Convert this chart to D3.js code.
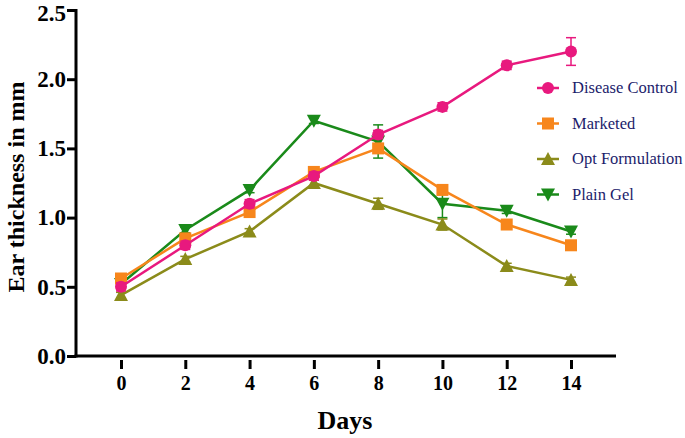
<!DOCTYPE html>
<html><head><meta charset="utf-8">
<script src="https://cdn.jsdelivr.net/npm/d3@7"></script>
<style>body{margin:0;background:#fff}svg{display:block}</style>
</head><body>
<svg id="c" width="685" height="438"></svg>
<script>
const days = [0, 2, 4, 6, 8, 10, 12, 14];
const diseaseControl = [0.50, 0.80, 1.10, 1.30, 1.60, 1.80, 2.10, 2.20];
const diseaseErr     = [0.03, 0.03, 0.03, 0.03, 0.03, 0.03, 0.03, 0.10];
const marketed       = [0.56, 0.85, 1.04, 1.33, 1.50, 1.20, 0.95, 0.80];
const marketedErr    = [0.02, 0.02, 0.02, 0.02, 0.03, 0.02, 0.02, 0.02];
const optFormulation = [0.44, 0.70, 0.90, 1.25, 1.10, 0.95, 0.65, 0.55];
const optErr         = [0.02, 0.02, 0.02, 0.02, 0.04, 0.04, 0.02, 0.02];
const plainGel       = [0.52, 0.91, 1.20, 1.70, 1.55, 1.10, 1.05, 0.90];
const plainErr       = [0.02, 0.02, 0.02, 0.02, 0.12, 0.10, 0.02, 0.02];
const yTicks = [0.0, 0.5, 1.0, 1.5, 2.0, 2.5];
const seriesNames = ["Disease Control", "Marketed", "Opt Formulation", "Plain Gel"];
const colors = ["#e8197e", "#f7861c", "#8b8b1a", "#1a8a1a"];
const symbols = ["circle", "square", "tri", "tridown"];

const series = [
  {name: seriesNames[0], vals: diseaseControl, err: diseaseErr},
  {name: seriesNames[1], vals: marketed, err: marketedErr},
  {name: seriesNames[2], vals: optFormulation, err: optErr},
  {name: seriesNames[3], vals: plainGel, err: plainErr}
];

const svg = d3.select("#c");
const x = d3.scaleLinear().domain([-1.4, 15.4]).range([76, 616]);
const y = d3.scaleLinear().domain([0, 2.5]).range([356, 10]);
const serif = "'Liberation Serif','Times New Roman',serif";

function drawMarker(g, sym, cx, cy, color) {
  if (sym === "circle") {
    g.append("circle").attr("cx", cx).attr("cy", cy).attr("r", 6).attr("fill", color);
  } else if (sym === "square") {
    g.append("rect").attr("x", cx - 6).attr("y", cy - 6).attr("width", 12).attr("height", 12).attr("fill", color);
  } else if (sym === "tri") {
    g.append("path").attr("d", `M${cx},${cy-7}L${cx+7},${cy+6}L${cx-7},${cy+6}Z`).attr("fill", color);
  } else {
    g.append("path").attr("d", `M${cx},${cy+7}L${cx+7},${cy-6}L${cx-7},${cy-6}Z`).attr("fill", color);
  }
}

const order = [3, 2, 1, 0];
order.forEach(i => {
  const s = series[i];
  const g = svg.append("g");
  const line = d3.line().x((d, j) => x(days[j])).y(d => y(d));
  s.vals.forEach((v, j) => {
    const cx = x(days[j]);
    const y1 = y(v + s.err[j]), y2 = y(v - s.err[j]);
    g.append("line").attr("x1", cx).attr("x2", cx).attr("y1", y1).attr("y2", y2).attr("stroke", colors[i]).attr("stroke-width", 1.5);
    [y1, y2].forEach(yy => g.append("line").attr("x1", cx - 5).attr("x2", cx + 5).attr("y1", yy).attr("y2", yy).attr("stroke", colors[i]).attr("stroke-width", 1.5));
  });
  g.append("path").datum(s.vals).attr("d", line).attr("fill", "none").attr("stroke", colors[i]).attr("stroke-width", 2.5);
  s.vals.forEach((v, j) => drawMarker(g, symbols[i], x(days[j]), y(v), colors[i]));
});

const yAxis = svg.append("g").attr("transform", "translate(76,0)")
  .call(d3.axisLeft(y).tickValues(yTicks).tickFormat(d3.format(".1f")).tickSize(9).tickPadding(1));
yAxis.select(".domain").attr("stroke-width", 3).attr("d", "M0,9V357.5");
yAxis.selectAll(".tick line").attr("stroke-width", 3);
yAxis.selectAll("text").attr("font-family", serif).attr("font-weight", "bold").attr("font-size", 23).attr("fill", "#000")
  .attr("dy", (d) => d === 2.5 ? "0.45em" : "0.32em");

const xAxis = svg.append("g").attr("transform", "translate(0,356)")
  .call(d3.axisBottom(x).tickValues(days).tickFormat(d3.format("d")).tickSize(0).tickPadding(20));
xAxis.select(".domain").attr("stroke-width", 3).attr("d", "M74.5,0H616");
xAxis.selectAll(".tick").append("line").attr("y1", 4).attr("y2", 13).attr("stroke", "#000").attr("stroke-width", 3);
xAxis.selectAll("text").attr("font-family", serif).attr("font-weight", "bold").attr("font-size", 20).attr("fill", "#000");

svg.append("text").attr("x", 345).attr("y", 429).attr("text-anchor", "middle")
  .attr("font-family", serif).attr("font-weight", "bold").attr("font-size", 26).text("Days");
svg.append("text").attr("transform", "translate(24,187) rotate(-90)").attr("text-anchor", "middle")
  .attr("font-family", serif).attr("font-weight", "bold").attr("font-size", 24).text("Ear thickness in mm");

const lg = svg.append("g");
series.forEach((s, i) => {
  const ly = 88 + i * 35.5;
  lg.append("line").attr("x1", 537).attr("x2", 559).attr("y1", ly).attr("y2", ly).attr("stroke", colors[i]).attr("stroke-width", 2.5);
  drawMarker(lg, symbols[i], 548, ly, colors[i]);
  lg.append("text").attr("x", 572).attr("y", ly + 5).attr("font-family", serif).attr("font-size", 16.5)
    .attr("fill", "#1c1c6b").text(s.name);
});
</script>
</body></html>
